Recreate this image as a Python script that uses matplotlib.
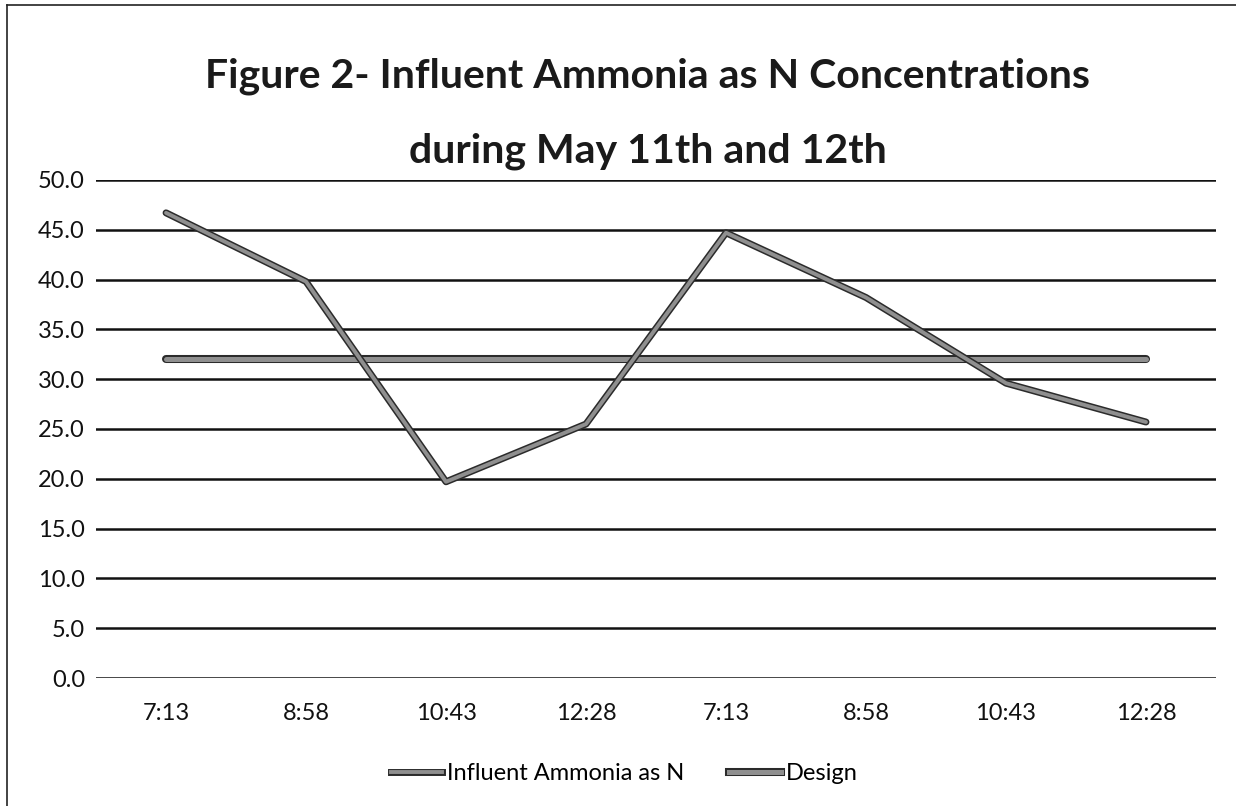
#!/usr/bin/env python3
"""Figure 2 - influent ammonia as N, May 11th and 12th."""

import matplotlib

matplotlib.use('Agg')
import matplotlib.pyplot as plt
import matplotlib.patheffects as pe
from matplotlib.lines import Line2D

times = ['7:13', '8:58', '10:43', '12:28', '7:13', '8:58', '10:43', '12:28']
influent = [46.7, 39.8, 19.7, 25.5, 44.7, 38.2, 29.6, 25.7]
design = [32.0, 32.0, 32.0, 32.0, 32.0, 32.0, 32.0, 32.0]
yticks = [0, 5, 10, 15, 20, 25, 30, 35, 40, 45, 50]

plt.rcParams['font.family'] = ['Lato', 'DejaVu Sans']

fig = plt.figure(figsize=(12.36, 8.06), dpi=100)
ax = fig.add_axes([0.0777, 0.1588, 0.9061, 0.6179])

x = list(range(len(times)))


def gray_line(lw):
    # scanned look: dark outline round a mid-grey stroke
    return [pe.Stroke(linewidth=lw + 2.2, foreground='#2b2b2b'), pe.Normal()]


ax.plot(x, design, color='#8f8f8f', lw=3.6, solid_capstyle='round',
        path_effects=gray_line(3.6), zorder=3)
ax.plot(x, influent, color='#8f8f8f', lw=2.8, solid_capstyle='round',
        solid_joinstyle='round', path_effects=gray_line(2.8), zorder=4)

ax.set_xlim(-0.5, len(times) - 0.5)
ax.set_ylim(0, 50)
ax.set_yticks(yticks)
ax.set_yticklabels([f'{v:.1f}' for v in yticks])
ax.set_xticks(x)
ax.set_xticklabels(times)
ax.tick_params(length=0, labelsize=17, colors='#111111')
ax.tick_params(axis='y', pad=8)
ax.tick_params(axis='x', pad=18)
ax.yaxis.grid(True, color='#111111', lw=1.8)
ax.set_axisbelow(True)
for s in ax.spines.values():
    s.set_visible(False)

fig.text(0.524, 0.905, 'Figure 2- Influent Ammonia as N Concentrations',
         ha='center', va='center', fontsize=29.5, fontweight='bold', color='#1a1a1a')
fig.text(0.524, 0.812, 'during May 11th and 12th',
         ha='center', va='center', fontsize=29.5, fontweight='bold', color='#1a1a1a')

handles = [
    Line2D([], [], color='#8f8f8f', lw=2.8, path_effects=gray_line(2.8)),
    Line2D([], [], color='#8f8f8f', lw=3.6, path_effects=gray_line(3.6)),
]
fig.legend(handles, ['Influent Ammonia as N', 'Design'], loc='center',
           bbox_to_anchor=(0.505, 0.04), ncol=2, frameon=False, fontsize=17,
           handlelength=2.2, handletextpad=0.2, columnspacing=1.9)

# thin page frame like the scanned original
fig.add_artist(Line2D([0.006, 0.006], [0.0, 0.994], color='#222222', lw=1.2,
                      transform=fig.transFigure))
fig.add_artist(Line2D([0.006, 1.0], [0.994, 0.994], color='#222222', lw=1.2,
                      transform=fig.transFigure))

fig.savefig('out.png', dpi=100)
